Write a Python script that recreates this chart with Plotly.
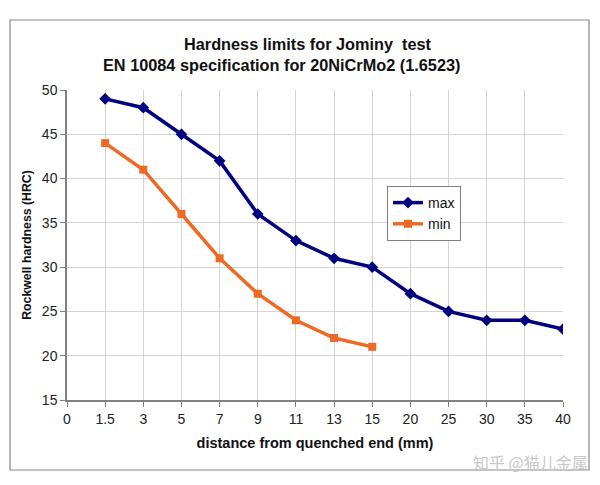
import plotly.graph_objects as go

categories = ["0", "1.5", "3", "5", "7", "9", "11", "13", "15", "20", "25", "30", "35", "40"]
max_x = ["1.5", "3", "5", "7", "9", "11", "13", "15", "20", "25", "30", "35", "40"]
max_hrc = [49, 48, 45, 42, 36, 33, 31, 30, 27, 25, 24, 24, 23]
min_x = ["1.5", "3", "5", "7", "9", "11", "13", "15"]
min_hrc = [44, 41, 36, 31, 27, 24, 22, 21]

L, R, T, B = 67, 37, 90, 85
W, H = 600, 485
pw, ph = W - L - R, H - T - B

def px(x):
    return (x - L) / pw

def py(y):
    return (H - B - y) / ph

fig = go.Figure()
fig.add_trace(go.Scatter(
    x=max_x, y=max_hrc, name="max", mode="lines+markers",
    line=dict(color="#000080", width=3.5),
    marker=dict(symbol="diamond", size=9, color="#000080"),
))
fig.add_trace(go.Scatter(
    x=min_x, y=min_hrc, name="min", mode="lines+markers",
    line=dict(color="#EE6A24", width=3.5),
    marker=dict(symbol="square", size=8, color="#EE6A24"),
))

font = "Liberation Sans, Arial, sans-serif"
fig.update_layout(
    width=W, height=H,
    margin=dict(l=L, r=R, t=T, b=B),
    paper_bgcolor="white", plot_bgcolor="white",
    font=dict(family=font, color="#222", size=14),
    xaxis=dict(
        type="category", categoryorder="array", categoryarray=categories,
        range=[0, 13], showgrid=True, gridcolor="#D4D4D4", gridwidth=1,
        showline=True, linecolor="#808080", linewidth=1.5,
        ticks="outside", ticklen=5, tickcolor="#808080",
        tickfont=dict(size=14, color="#222"),
        title=dict(text="<b>distance from quenched end (mm)</b>", font=dict(size=14.5, color="#111"), standoff=12),
        zeroline=False,
    ),
    yaxis=dict(
        range=[15, 50], dtick=5, showgrid=True, gridcolor="#D4D4D4", gridwidth=1,
        showline=True, linecolor="#808080", linewidth=1.5,
        ticks="outside", ticklen=5, tickcolor="#808080",
        tickfont=dict(size=14, color="#222"),
        title=dict(text="<b>Rockwell hardness (HRC)</b>", font=dict(size=12.3, color="#111"), standoff=8),
        zeroline=False,
    ),
    legend=dict(
        x=px(387), y=py(186), xanchor="left", yanchor="top",
        bgcolor="white", bordercolor="#808080", borderwidth=1,
        font=dict(size=14, color="#111"), itemwidth=30, tracegroupgap=0,
    ),
    showlegend=True,
)

fig.add_annotation(text="<b>Hardness limits for Jominy  test</b>", xref="paper", yref="paper",
                   x=px(308), y=py(44), xanchor="center", yanchor="middle", showarrow=False,
                   font=dict(family=font, size=16.3, color="#111"))
fig.add_annotation(text="<b>EN 10084 specification for 20NiCrMo2 (1.6523)</b>", xref="paper", yref="paper",
                   x=px(281), y=py(65), xanchor="center", yanchor="middle", showarrow=False,
                   font=dict(family=font, size=16.3, color="#111"))

fig.add_shape(type="rect", xref="paper", yref="paper",
              x0=px(10), x1=px(589), y0=py(470), y1=py(20),
              line=dict(color="#888888", width=1.2), fillcolor="rgba(0,0,0,0)")

fig.add_annotation(text="知乎 @猫儿金属", xref="paper", yref="paper",
                   x=px(590), y=py(462), xanchor="right", yanchor="middle",
                   showarrow=False,
                   font=dict(family="Noto Sans CJK SC", size=16, color="#C8C8C8"))

fig.write_html("out.html", config={"displayModeBar": False},
               post_script="document.body.style.margin='0';document.body.style.overflow='hidden';")
